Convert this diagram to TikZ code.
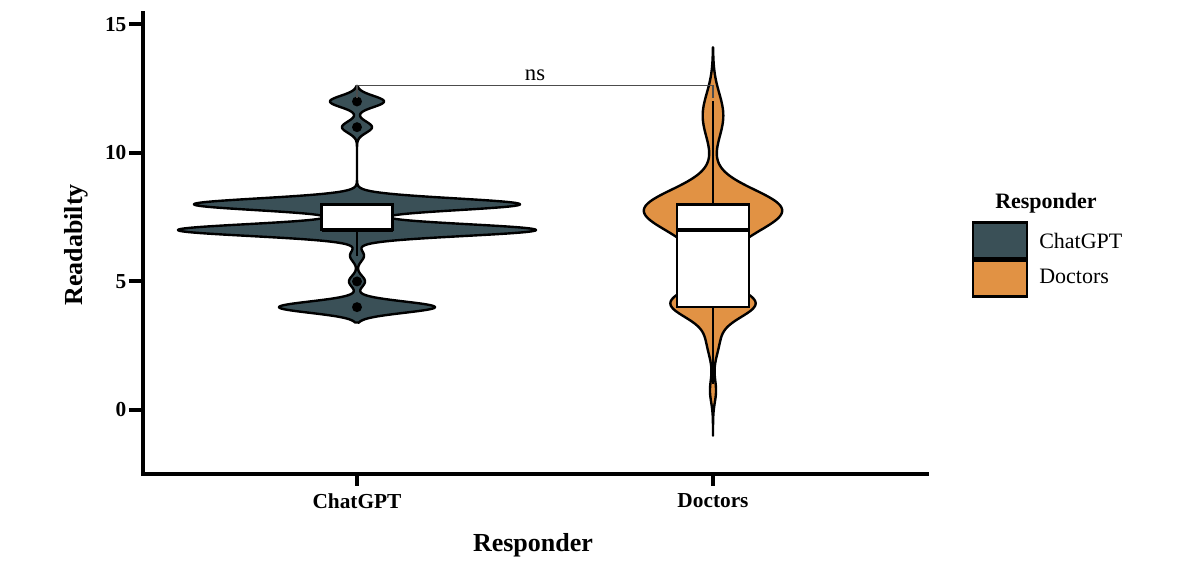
\documentclass[tikz,border=0pt]{standalone}
\usepackage{fontspec}
\setmainfont{Liberation Serif}
\usepackage{xcolor}
\usepackage{tikz}
\usetikzlibrary{calc}
\definecolor{gptslate}{RGB}{58, 80, 87}
\definecolor{docorange}{RGB}{225, 146, 68}

\tikzset{
  violin/.style={draw=black, line width=1.8pt, line join=round},
  boxbody/.style={draw=black, fill=white, line width=1.8pt},
  medianline/.style={line width=3pt},
  whisker/.style={line width=1.6pt},
  axisline/.style={line width=3pt},
  bracket/.style={draw=black!70, line width=0.8pt},
  ticklabel/.style={font=\fontsize{16}{19}\selectfont\bfseries},
  axistitle/.style={font=\fontsize{19.5}{23}\selectfont\bfseries},
  legendkey/.style={draw=black, line width=1.8pt},
}

\begin{document}
\begin{tikzpicture}[x=0.75pt, y=0.75pt,
  declare function={
    g(\z)=exp(-min(0.5*\z*\z,15));
    fgpt(\x)=78*g((\x-4)/0.22)+8*g((\x-5)/0.22)+7*g((\x-6)/0.22)+179*g((\x-7)/0.23)+163*g((\x-8)/0.23)+15*g((\x-11)/0.22)+27*g((\x-12)/0.22);
    fdoc(\x)=67*g((\x-7.8)/0.78)+12*g((\x-6.3)/0.8)+42*g((\x-4.15)/0.55)+6*g((\x-2.7)/0.6)+3*g((\x-0.75)/0.45)+10.3*g((\x-11.45)/0.87);
  }]
\useasboundingbox (0,0) rectangle (1200,573);

% Data area: x in pixels, y in readability units
\begin{scope}[yshift=122.25pt, y=19.2825pt]
% ChatGPT violin
\draw[violin, fill=gptslate] plot[domain=3.4:12.6, samples=461, variable=\t] ({357+fgpt(\t)}, \t)
  -- plot[domain=12.6:3.4, samples=461, variable=\t] ({357-fgpt(\t)}, \t) -- cycle;
\draw[whisker] (357,7) -- (357,6);
\draw[boxbody] (321.5,7) rectangle (392.5,8);
\draw[medianline] (321.5,7) -- (392.5,7);
\foreach \v in {4,5,11,12} {
    \fill (357,\v) circle (3.75pt);
}

% Doctors violin
\draw[violin, fill=docorange] plot[domain=-1:14.1, samples=303, variable=\t] ({713+fdoc(\t)}, \t)
  -- plot[domain=14.1:-1, samples=303, variable=\t] ({713-fdoc(\t)}, \t) -- cycle;
\draw[whisker] (713,8) -- (713,12);
\draw[whisker] (713,4) -- (713,1);
\draw[boxbody] (677,4) rectangle (749,8);
\draw[medianline] (677,7) -- (749,7);

% Significance bracket
\coordinate (gptTop) at (357,12.63);
\coordinate (docTop) at (713,12.63);
\draw[bracket] ($(gptTop)+(0,-0.5)$) -- (gptTop)
  -- node[above, inner sep=3pt, font=\fontsize{17}{20}\selectfont] (nsLabel) {ns} (docTop)
  -- ($(docTop)+(0,-0.5)$);

% Axes
\draw[axisline, line join=miter] (143,15.5) -- (143,-2.5) -- (929,-2.5);
\foreach \v in {0,5,10,15} {
    \draw[axisline] (143,\v) -- (129,\v);
    \node[ticklabel, anchor=east, inner sep=1pt] (ytick\v) at (128,\v) {\v};
}
\foreach \x/\name in {357/ChatGPT, 713/Doctors} {
    \draw[axisline] (\x,-2.5) -- (\x,-2.97);
    \node[ticklabel] (xtick\name) at (\x,-3.54) {\name};
}
\end{scope}

% Axis titles
\node[axistitle, rotate=90] (ytitle) at (76,328) {Readabilty};
\node[axistitle] (xtitle) at (533,28) {Responder};

% Legend
\node[font=\fontsize{16.5}{20}\selectfont\bfseries] (legTitle) at (1046,370) {Responder};
\draw[legendkey, fill=gptslate] (973,315) rectangle (1027,350.3);
\draw[legendkey, fill=docorange] (973,276.3) rectangle (1027,312.5);
\node[anchor=west, inner sep=0pt, font=\fontsize{16.5}{20}\selectfont] (legGpt) at (1039,332.5) {ChatGPT};
\node[anchor=west, inner sep=0pt, font=\fontsize{16.5}{20}\selectfont] (legDoc) at (1039,296.5) {Doctors};
\end{tikzpicture}
\end{document}
